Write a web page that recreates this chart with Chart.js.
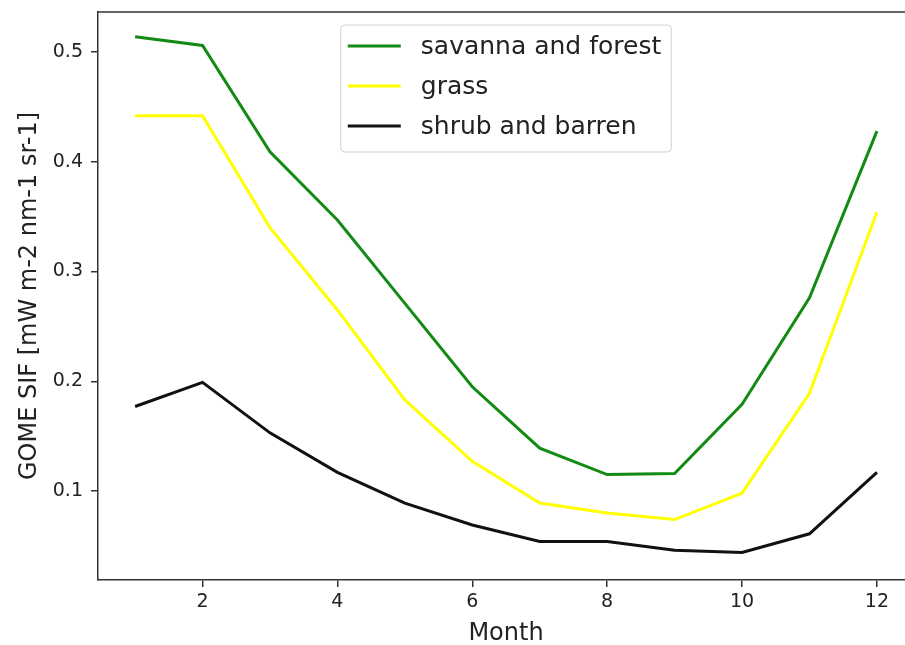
<!DOCTYPE html>
<html>
<head>
<meta charset="utf-8">
<script src="https://cdn.jsdelivr.net/npm/chart.js@4.4.0/dist/chart.umd.min.js"></script>
<style>
  html, body { margin: 0; padding: 0; background: #fff; overflow: hidden; }
  #wrap { width: 905px; height: 645px; overflow: hidden; position: relative; }
  #box { width: 920px; height: 645px; }
</style>
</head>
<body>
<div id="wrap"><div id="box"><canvas id="sifChart"></canvas></div></div>
<script>
// data
const months = [1, 2, 3, 4, 5, 6, 7, 8, 9, 10, 11, 12];
const savannaForest = [0.514, 0.506, 0.409, 0.347, 0.271, 0.195, 0.139, 0.115, 0.116, 0.179, 0.276, 0.428];
const grass = [0.442, 0.442, 0.340, 0.265, 0.183, 0.127, 0.089, 0.080, 0.074, 0.098, 0.189, 0.354];
const shrubBarren = [0.177, 0.199, 0.153, 0.117, 0.089, 0.069, 0.054, 0.054, 0.046, 0.044, 0.061, 0.117];
const xTicks = [2, 4, 6, 8, 10, 12];
const yTicks = [0.1, 0.2, 0.3, 0.4, 0.5];

const FONT = "'DejaVu Sans', sans-serif";
const INK = "#222";

function points(vals) {
    return months.map((m, i) => ({ x: m, y: vals[i] }));
}

// top spine + matplotlib style legend (upper center)
const framePlugin = {
    id: "frame",
    afterDraw(chart) {
        const ctx = chart.ctx;
        const a = chart.chartArea;
        ctx.save();
        ctx.strokeStyle = "#333";
        ctx.lineWidth = 1.5;
        ctx.beginPath();
        ctx.moveTo(a.left, a.top);
        ctx.lineTo(a.right, a.top);
        ctx.stroke();

        ctx.font = "25px " + FONT;
        const sets = chart.data.datasets;
        let textW = 0;
        sets.forEach(d => { textW = Math.max(textW, ctx.measureText(d.label).width); });
        const w = 80 + textW + 10;
        const h = 127;
        const x0 = (a.left + a.right) / 2 - w / 2;
        const y0 = a.top + 13;
        ctx.fillStyle = "rgba(255,255,255,0.8)";
        ctx.strokeStyle = "#d0d0d0";
        ctx.lineWidth = 1;
        ctx.beginPath();
        ctx.roundRect(x0, y0, w, h, 4);
        ctx.fill();
        ctx.stroke();
        ctx.textBaseline = "middle";
        sets.forEach((d, i) => {
            const yy = y0 + 21 + i * 40;
            ctx.strokeStyle = d.borderColor;
            ctx.lineWidth = 3;
            ctx.beginPath();
            ctx.moveTo(x0 + 7, yy);
            ctx.lineTo(x0 + 60, yy);
            ctx.stroke();
            ctx.fillStyle = INK;
            ctx.fillText(d.label, x0 + 80, yy + 1);
        });
        ctx.restore();
    }
};

new Chart(document.getElementById("sifChart"), {
    type: "line",
    data: {
        datasets: [
            { label: "savanna and forest", data: points(savannaForest), borderColor: "#138a13" },
            { label: "grass", data: points(grass), borderColor: "#ffff00" },
            { label: "shrub and barren", data: points(shrubBarren), borderColor: "#111111" }
        ]
    },
    options: {
        responsive: true,
        maintainAspectRatio: false,
        animation: false,
        layout: { padding: { top: 12, right: 6, left: 0, bottom: 0 } },
        elements: {
            line: { borderWidth: 3, tension: 0, fill: false },
            point: { radius: 0, hoverRadius: 0 }
        },
        plugins: {
            legend: { display: false },
            tooltip: { enabled: false }
        },
        scales: {
            x: {
                type: "linear",
                min: 0.45,
                max: 12.55,
                afterBuildTicks: s => { s.ticks = xTicks.map(v => ({ value: v })); },
                afterFit: s => { s.height = 65; s.paddingLeft = 0; s.paddingRight = 0; },
                grid: { display: true, drawOnChartArea: false, drawTicks: true, tickLength: 7, color: "#333", lineWidth: 1.5 },
                border: { display: true, color: "#333", width: 1.5 },
                ticks: { color: INK, font: { family: FONT, size: 19 }, padding: 4, maxRotation: 0, callback: v => String(v) },
                title: { display: true, text: "Month", color: INK, font: { family: FONT, size: 24, lineHeight: 0.95 }, padding: { top: 8, bottom: 0 } }
            },
            y: {
                min: 0.0189,
                max: 0.5365,
                afterBuildTicks: s => { s.ticks = yTicks.map(v => ({ value: v })); },
                afterFit: s => { s.width = 98; s.paddingTop = 0; s.paddingBottom = 0; },
                grid: { display: true, drawOnChartArea: false, drawTicks: true, tickLength: 7, color: "#333", lineWidth: 1.5 },
                border: { display: true, color: "#333", width: 1.5 },
                ticks: { color: INK, font: { family: FONT, size: 19 }, padding: 8, callback: v => v.toFixed(1) },
                title: { display: true, text: "GOME SIF [mW m-2 nm-1 sr-1]", color: INK, font: { family: FONT, size: 24 }, padding: { top: 15, bottom: 0 } }
            }
        }
    },
    plugins: [framePlugin]
});
</script>
</body>
</html>
